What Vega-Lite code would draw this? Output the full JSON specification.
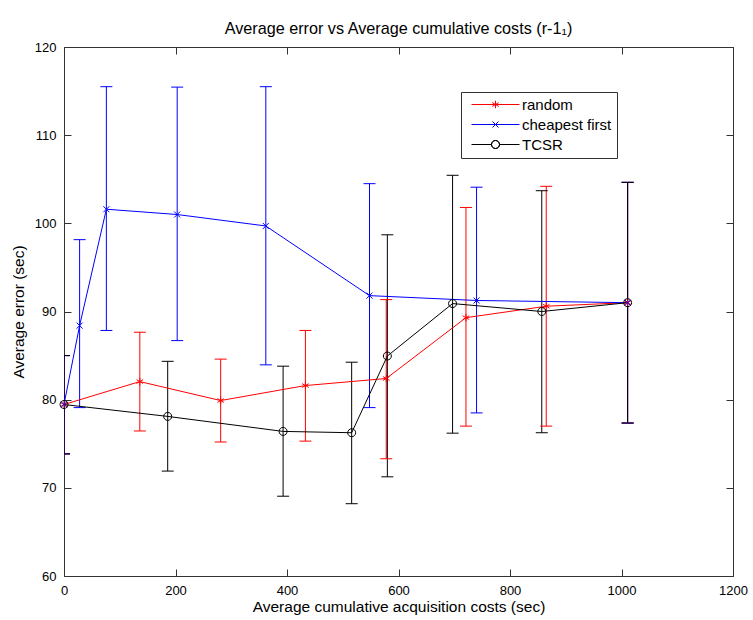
{
  "$schema": "https://vega.github.io/schema/vega-lite/v6.json",
  "width": 669,
  "height": 529,
  "autosize": {"type": "none"},
  "padding": {"left": 64, "top": 47, "right": 20, "bottom": 44},
  "background": "white",
  "title": {
    "text": "Average error vs Average cumulative costs (r-1₁)",
    "font": "Liberation Sans",
    "fontSize": 16.2,
    "fontWeight": "normal",
    "color": "black",
    "anchor": "middle",
    "frame": "group",
    "baseline": "alphabetic",
    "offset": -9
  },
  "config": {
    "font": "Liberation Sans",
    "view": {"stroke": "#333333", "strokeWidth": 1},
    "axis": {
      "grid": false,
      "domain": false,
      "tickColor": "#333333",
      "tickSize": 7,
      "tickWidth": 1,
      "offset": -7,
      "labelFlush": false,
      "labelFont": "Liberation Sans",
      "labelFontSize": 13,
      "labelColor": "black",
      "titleFont": "Liberation Sans",
      "titleFontSize": 15.5,
      "titleFontWeight": "normal",
      "titleColor": "black"
    },
    "legend": {
      "orient": "none",
      "legendX": 397,
      "legendY": 45,
      "padding": 5,
      "strokeColor": "#333333",
      "fillColor": "white",
      "symbolSize": 64,
      "symbolStrokeWidth": 1,
      "symbolOpacity": 1,
      "symbolOffset": 22,
      "labelOffset": 19,
      "labelFont": "Liberation Sans",
      "labelFontSize": 15,
      "labelColor": "black",
      "rowPadding": 4
    }
  },
  "datasets": {
    "pts": [
      {"series": "random", "cost": 0, "err": 79.45, "lo": 73.85, "hi": 85.0},
      {"series": "random", "cost": 136, "err": 82.05, "lo": 76.45, "hi": 87.65},
      {"series": "random", "cost": 281, "err": 79.9, "lo": 75.2, "hi": 84.6},
      {"series": "random", "cost": 433, "err": 81.6, "lo": 75.3, "hi": 87.85},
      {"series": "random", "cost": 578, "err": 82.4, "lo": 73.3, "hi": 91.35},
      {"series": "random", "cost": 721, "err": 89.3, "lo": 77.0, "hi": 101.8},
      {"series": "random", "cost": 865, "err": 90.6, "lo": 77.0, "hi": 104.2},
      {"series": "random", "cost": 1011, "err": 91.0, "lo": 77.35, "hi": 104.65},
      {"series": "cheapest first", "cost": 0, "err": 79.45, "lo": 73.85, "hi": 85.0},
      {"series": "cheapest first", "cost": 28, "err": 88.4, "lo": 79.1, "hi": 98.15},
      {"series": "cheapest first", "cost": 76, "err": 101.6, "lo": 87.85, "hi": 115.5},
      {"series": "cheapest first", "cost": 203, "err": 101.0, "lo": 86.7, "hi": 115.45},
      {"series": "cheapest first", "cost": 362, "err": 99.7, "lo": 83.95, "hi": 115.5},
      {"series": "cheapest first", "cost": 548, "err": 91.8, "lo": 79.1, "hi": 104.5},
      {"series": "cheapest first", "cost": 740, "err": 91.25, "lo": 78.5, "hi": 104.1},
      {"series": "cheapest first", "cost": 1011, "err": 91.0, "lo": 77.35, "hi": 104.65},
      {"series": "TCSR", "cost": 0, "err": 79.45, "lo": 73.85, "hi": 85.0},
      {"series": "TCSR", "cost": 186, "err": 78.1, "lo": 71.9, "hi": 84.35},
      {"series": "TCSR", "cost": 393, "err": 76.4, "lo": 69.05, "hi": 83.8},
      {"series": "TCSR", "cost": 516, "err": 76.25, "lo": 68.2, "hi": 84.25},
      {"series": "TCSR", "cost": 580, "err": 84.95, "lo": 71.25, "hi": 98.7},
      {"series": "TCSR", "cost": 697, "err": 90.9, "lo": 76.2, "hi": 105.45},
      {"series": "TCSR", "cost": 857, "err": 90.0, "lo": 76.25, "hi": 103.7},
      {"series": "TCSR", "cost": 1011, "err": 91.0, "lo": 77.35, "hi": 104.65}
    ]
  },
  "data": {"name": "pts"},
  "resolve": {"axis": {"x": "independent", "y": "independent"}},
  "layer": [
    {
      "mark": {"type": "point", "filled": false, "opacity": 0, "strokeWidth": 1},
      "encoding": {
        "x": {
          "field": "cost", "type": "quantitative",
          "scale": {"domain": [0, 1200]},
          "axis": {
            "orient": "bottom",
            "values": [0, 200, 400, 600, 800, 1000, 1200],
            "format": "d",
            "title": "Average cumulative acquisition costs (sec)",
            "labelPadding": 8,
            "titlePadding": 2
          }
        },
        "y": {
          "field": "err", "type": "quantitative",
          "scale": {"domain": [60, 120]},
          "axis": {
            "orient": "left",
            "values": [60, 70, 80, 90, 100, 110, 120],
            "format": "d",
            "title": "Average error (sec)",
            "labelPadding": 8,
            "titlePadding": 8
          }
        },
        "color": {
          "field": "series", "type": "nominal",
          "scale": {"domain": ["random", "cheapest first", "TCSR"], "range": ["#ff0000", "#0000ff", "#000000"]},
          "legend": {"title": null}
        },
        "shape": {
          "field": "series", "type": "nominal",
          "scale": {
            "domain": ["random", "cheapest first", "TCSR"],
            "range": [
              "M-6,0H6M0,-0.95V0.95M-0.82,-0.47L0.82,0.47M-0.82,0.47L0.82,-0.47",
              "M-6,0H6M-0.75,-0.75L0.75,0.75M-0.75,0.75L0.75,-0.75",
              "M-6,0H-1M1,0H6M1,0A1,1,0,1,1,-1,0A1,1,0,1,1,1,0A1,1,0,1,0,-1,0A1,1,0,1,0,1,0"
            ]
          },
          "legend": {"title": null}
        }
      }
    },
    {
      "mark": {"type": "rule", "strokeWidth": 1, "clip": true},
      "encoding": {
        "x": {
          "field": "cost", "type": "quantitative",
          "scale": {"domain": [0, 1200]},
          "axis": {"orient": "top", "values": [0, 200, 400, 600, 800, 1000, 1200], "labels": false, "title": null}
        },
        "y": {
          "field": "lo", "type": "quantitative",
          "scale": {"domain": [60, 120]},
          "axis": {"orient": "right", "values": [60, 70, 80, 90, 100, 110, 120], "labels": false, "title": null}
        },
        "y2": {"field": "hi"},
        "color": {
          "field": "series", "type": "nominal",
          "scale": {"domain": ["random", "cheapest first", "TCSR"], "range": ["#ff0000", "#0000ff", "#000000"]},
          "legend": null
        }
      }
    },
    {
      "mark": {"type": "tick", "orient": "horizontal", "size": 12, "thickness": 1, "opacity": 1, "clip": true},
      "encoding": {
        "x": {"field": "cost", "type": "quantitative", "scale": {"domain": [0, 1200]}, "axis": null},
        "y": {"field": "lo", "type": "quantitative", "scale": {"domain": [60, 120]}, "axis": null},
        "color": {
          "field": "series", "type": "nominal",
          "scale": {"domain": ["random", "cheapest first", "TCSR"], "range": ["#ff0000", "#0000ff", "#000000"]},
          "legend": null
        }
      }
    },
    {
      "mark": {"type": "tick", "orient": "horizontal", "size": 12, "thickness": 1, "opacity": 1, "clip": true},
      "encoding": {
        "x": {"field": "cost", "type": "quantitative", "scale": {"domain": [0, 1200]}, "axis": null},
        "y": {"field": "hi", "type": "quantitative", "scale": {"domain": [60, 120]}, "axis": null},
        "color": {
          "field": "series", "type": "nominal",
          "scale": {"domain": ["random", "cheapest first", "TCSR"], "range": ["#ff0000", "#0000ff", "#000000"]},
          "legend": null
        }
      }
    },
    {
      "mark": {"type": "line", "strokeWidth": 1},
      "encoding": {
        "x": {"field": "cost", "type": "quantitative", "scale": {"domain": [0, 1200]}, "axis": null},
        "y": {"field": "err", "type": "quantitative", "scale": {"domain": [60, 120]}, "axis": null},
        "color": {
          "field": "series", "type": "nominal",
          "scale": {"domain": ["random", "cheapest first", "TCSR"], "range": ["#ff0000", "#0000ff", "#000000"]},
          "legend": null
        }
      }
    },
    {
      "transform": [{"filter": "datum.series === 'random'"}],
      "mark": {"type": "point", "shape": "M0,-0.95V0.95M-0.82,-0.47L0.82,0.47M-0.82,0.47L0.82,-0.47", "size": 64, "strokeWidth": 1, "filled": false, "opacity": 1, "color": "#ff0000"},
      "encoding": {
        "x": {"field": "cost", "type": "quantitative", "scale": {"domain": [0, 1200]}, "axis": null},
        "y": {"field": "err", "type": "quantitative", "scale": {"domain": [60, 120]}, "axis": null}
      }
    },
    {
      "transform": [{"filter": "datum.series === 'cheapest first'"}],
      "mark": {"type": "point", "shape": "M-0.75,-0.75L0.75,0.75M-0.75,0.75L0.75,-0.75", "size": 64, "strokeWidth": 1, "filled": false, "opacity": 1, "color": "#0000ff"},
      "encoding": {
        "x": {"field": "cost", "type": "quantitative", "scale": {"domain": [0, 1200]}, "axis": null},
        "y": {"field": "err", "type": "quantitative", "scale": {"domain": [60, 120]}, "axis": null}
      }
    },
    {
      "transform": [{"filter": "datum.series === 'TCSR'"}],
      "mark": {"type": "point", "shape": "M1,0A1,1,0,1,1,-1,0A1,1,0,1,1,1,0Z", "size": 64, "strokeWidth": 1, "filled": false, "opacity": 1, "color": "#000000"},
      "encoding": {
        "x": {"field": "cost", "type": "quantitative", "scale": {"domain": [0, 1200]}, "axis": null},
        "y": {"field": "err", "type": "quantitative", "scale": {"domain": [60, 120]}, "axis": null}
      }
    }
  ]
}
